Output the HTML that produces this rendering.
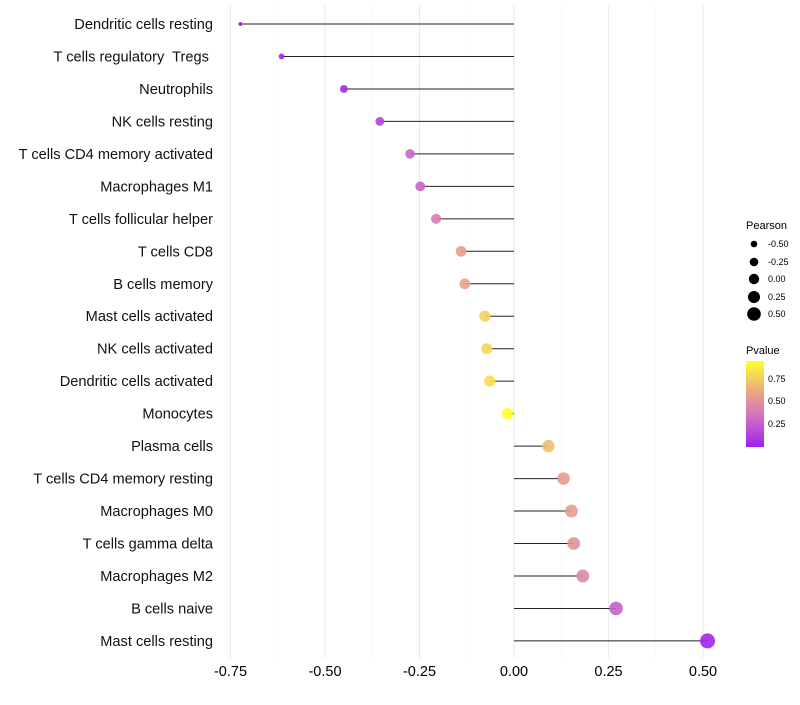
<!DOCTYPE html>
<html><head><meta charset="utf-8"><style>
body{margin:0;background:#fff;font-family:"Liberation Sans",sans-serif}
text{white-space:pre}
</style></head><body>
<svg id="c" width="800" height="700" xmlns="http://www.w3.org/2000/svg">
<defs><linearGradient id="pg" x1="0" y1="1" x2="0" y2="0">
<stop offset="0" stop-color="#a020f0"/><stop offset="0.35" stop-color="#d070c0"/><stop offset="0.65" stop-color="#eba882"/><stop offset="1" stop-color="#ffff30"/></linearGradient></defs>
<g id="grid"></g><g id="marks"></g><g id="labels"></g>
<g font-size="10" fill="#000">
<text x="746" y="229" font-size="11">Pearson</text>
<circle cx="754" cy="244" r="3.3"/><text x="768" y="247" font-size="9">-0.50</text>
<circle cx="754" cy="262" r="4.3"/><text x="768" y="265" font-size="9">-0.25</text>
<circle cx="754" cy="279" r="5.2"/><text x="768" y="282" font-size="9">0.00</text>
<circle cx="754" cy="297" r="6"/><text x="768" y="300" font-size="9">0.25</text>
<circle cx="754" cy="314" r="6.8"/><text x="768" y="317" font-size="9">0.50</text>
</g>
<g>
<text x="746" y="354" font-size="11">Pvalue</text>
<rect x="746" y="361" width="18" height="86" fill="url(#pg)"/>
<text x="768" y="382" font-size="9">0.75</text>
<text x="768" y="404" font-size="9">0.50</text>
<text x="768" y="427" font-size="9">0.25</text>
</g>
</svg>
<script>
const cells=["Dendritic cells resting","T cells regulatory  Tregs\u00a0","Neutrophils","NK cells resting","T cells CD4 memory activated","Macrophages M1","T cells follicular helper","T cells CD8","B cells memory","Mast cells activated","NK cells activated","Dendritic cells activated","Monocytes","Plasma cells","T cells CD4 memory resting","Macrophages M0","T cells gamma delta","Macrophages M2","B cells naive","Mast cells resting"];
const pearson=[-0.724,-0.615,-0.45,-0.355,-0.275,-0.248,-0.206,-0.14,-0.13,-0.077,-0.072,-0.064,-0.017,0.091,0.131,0.152,0.158,0.182,0.27,0.512];
const pvalue=[0.0,0.02,0.04,0.15,0.3,0.3,0.42,0.6,0.62,0.78,0.8,0.82,0.92,0.72,0.6,0.58,0.55,0.5,0.28,0.02];
const ticks=[-0.75,-0.5,-0.25,0,0.25,0.5];
const ns="http://www.w3.org/2000/svg";
const X=v=>514+v*378;
const Y=i=>24+i*32.47;
const col=p=>{const s=[[0,[160,32,240]],[0.35,[208,112,192]],[0.65,[235,168,130]],[0.92,[255,255,48]]];
 for(let k=1;k<s.length;k++){if(p<=s[k][0]||k==s.length-1){const t=Math.min(1,Math.max(0,(p-s[k-1][0])/(s[k][0]-s[k-1][0])));const a=s[k-1][1],b=s[k][1];return `rgb(${a.map((v,j)=>Math.round(v+(b[j]-v)*t)).join(",")})`;}}};
function mk(t,a,p){const e=document.createElementNS(ns,t);for(const k in a)e.setAttribute(k,a[k]);p.appendChild(e);return e;}
const G=document.getElementById("grid"),M=document.getElementById("marks"),L=document.getElementById("labels");
for(let v=-0.875;v<=0.625;v+=0.125){const x=X(v);if(x<215||x>725)continue;
 const major=ticks.some(t=>Math.abs(t-v)<1e-6);
 const l=mk("line",{x1:x,x2:x,y1:5,y2:658,stroke:major?"#ebebeb":"#f5f5f5","stroke-width":major?1.1:0.6},G);
 
 }
ticks.forEach(t=>{const e=mk("text",{x:X(t),y:676,"text-anchor":"middle","font-size":"14.5",fill:"#000"},L);e.textContent=t.toFixed(2);
 
 });
cells.forEach((c,i)=>{const y=Y(i);
 const e=mk("text",{x:213,y:y+5,"text-anchor":"end","font-size":"14.6",fill:"#111"},L);e.textContent=c;
 
 
 const s=mk("line",{x1:X(0),x2:X(pearson[i]),y1:y,y2:y,stroke:"#222","stroke-width":1},M);
 
 
 const r=Math.sqrt(Math.max(3,34.5+42.3*pearson[i]));
 const d=mk("circle",{cx:X(pearson[i]),cy:y,r:r,fill:col(pvalue[i]),"fill-opacity":0.9},M);
 
 });
</script>
</body></html>
